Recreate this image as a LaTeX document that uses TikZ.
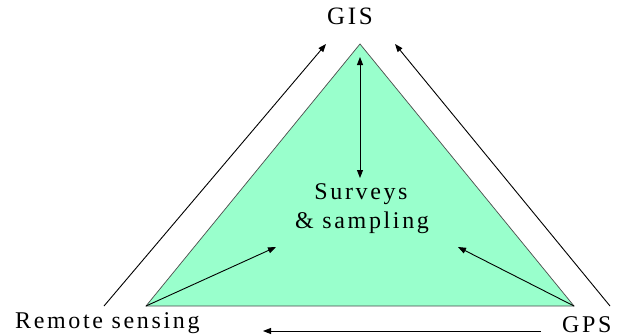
\documentclass[tikz,border=0pt]{standalone}
\usepackage{fontspec}
\setmainfont{Liberation Serif}[LetterSpace=11]
\usetikzlibrary{arrows.meta}
\definecolor{mint}{HTML}{99FFCC}
\begin{document}
\begin{tikzpicture}[x=1pt,y=-1pt,
  lbl/.style={inner sep=0pt, font=\fontsize{24}{29}\selectfont, text=black},
  arr/.style={draw=black, line width=0.9pt, -{Triangle[length=8pt,width=6pt]}},
  darr/.style={draw=black, line width=0.9pt, {Triangle[length=8pt,width=6pt]}-{Triangle[length=8pt,width=6pt]}}]
\useasboundingbox (0,0) rectangle (621,335);
% triangle vertices
\coordinate (A) at (360,44);
\coordinate (L) at (146,306);
\coordinate (R) at (574,306);
\filldraw[fill=mint, draw=black!70, line width=0.7pt] (A) -- (L) -- (R) -- cycle;
% labels
\node[lbl, anchor=base, font=\fontsize{25}{29}\selectfont] (gis) at (350,24) {GIS};
\node[lbl, anchor=base west, text depth=0pt] (rs) at (15,328) {Remote sensing};
\node[lbl, anchor=base west, text depth=0pt] (gps) at (562,332) {GPS};
\node[lbl, anchor=base] (surv) at (361,199) {Surveys};
\node[lbl, anchor=base] (samp) at (362,228) {\& sampling};
% arrow end points
\coordinate (lo1) at (104,306);
\coordinate (lo2) at (326,44);
\coordinate (ro1) at (610,306);
\coordinate (ro2) at (395,44);
\coordinate (b1) at (541,331);
\coordinate (b2) at (263,331);
\coordinate (v1) at (360,57);
\coordinate (v2) at (360,178);
\coordinate (li) at (276,247);
\coordinate (ri) at (458,247);
% connectors
\draw[arr] (lo1) -- (lo2);
\draw[arr] (ro1) -- (ro2);
\draw[arr] (b1) -- (b2);
\draw[darr] (v1) -- (v2);
\draw[arr] (L) -- (li);
\draw[arr] (R) -- (ri);
\end{tikzpicture}
\end{document}
